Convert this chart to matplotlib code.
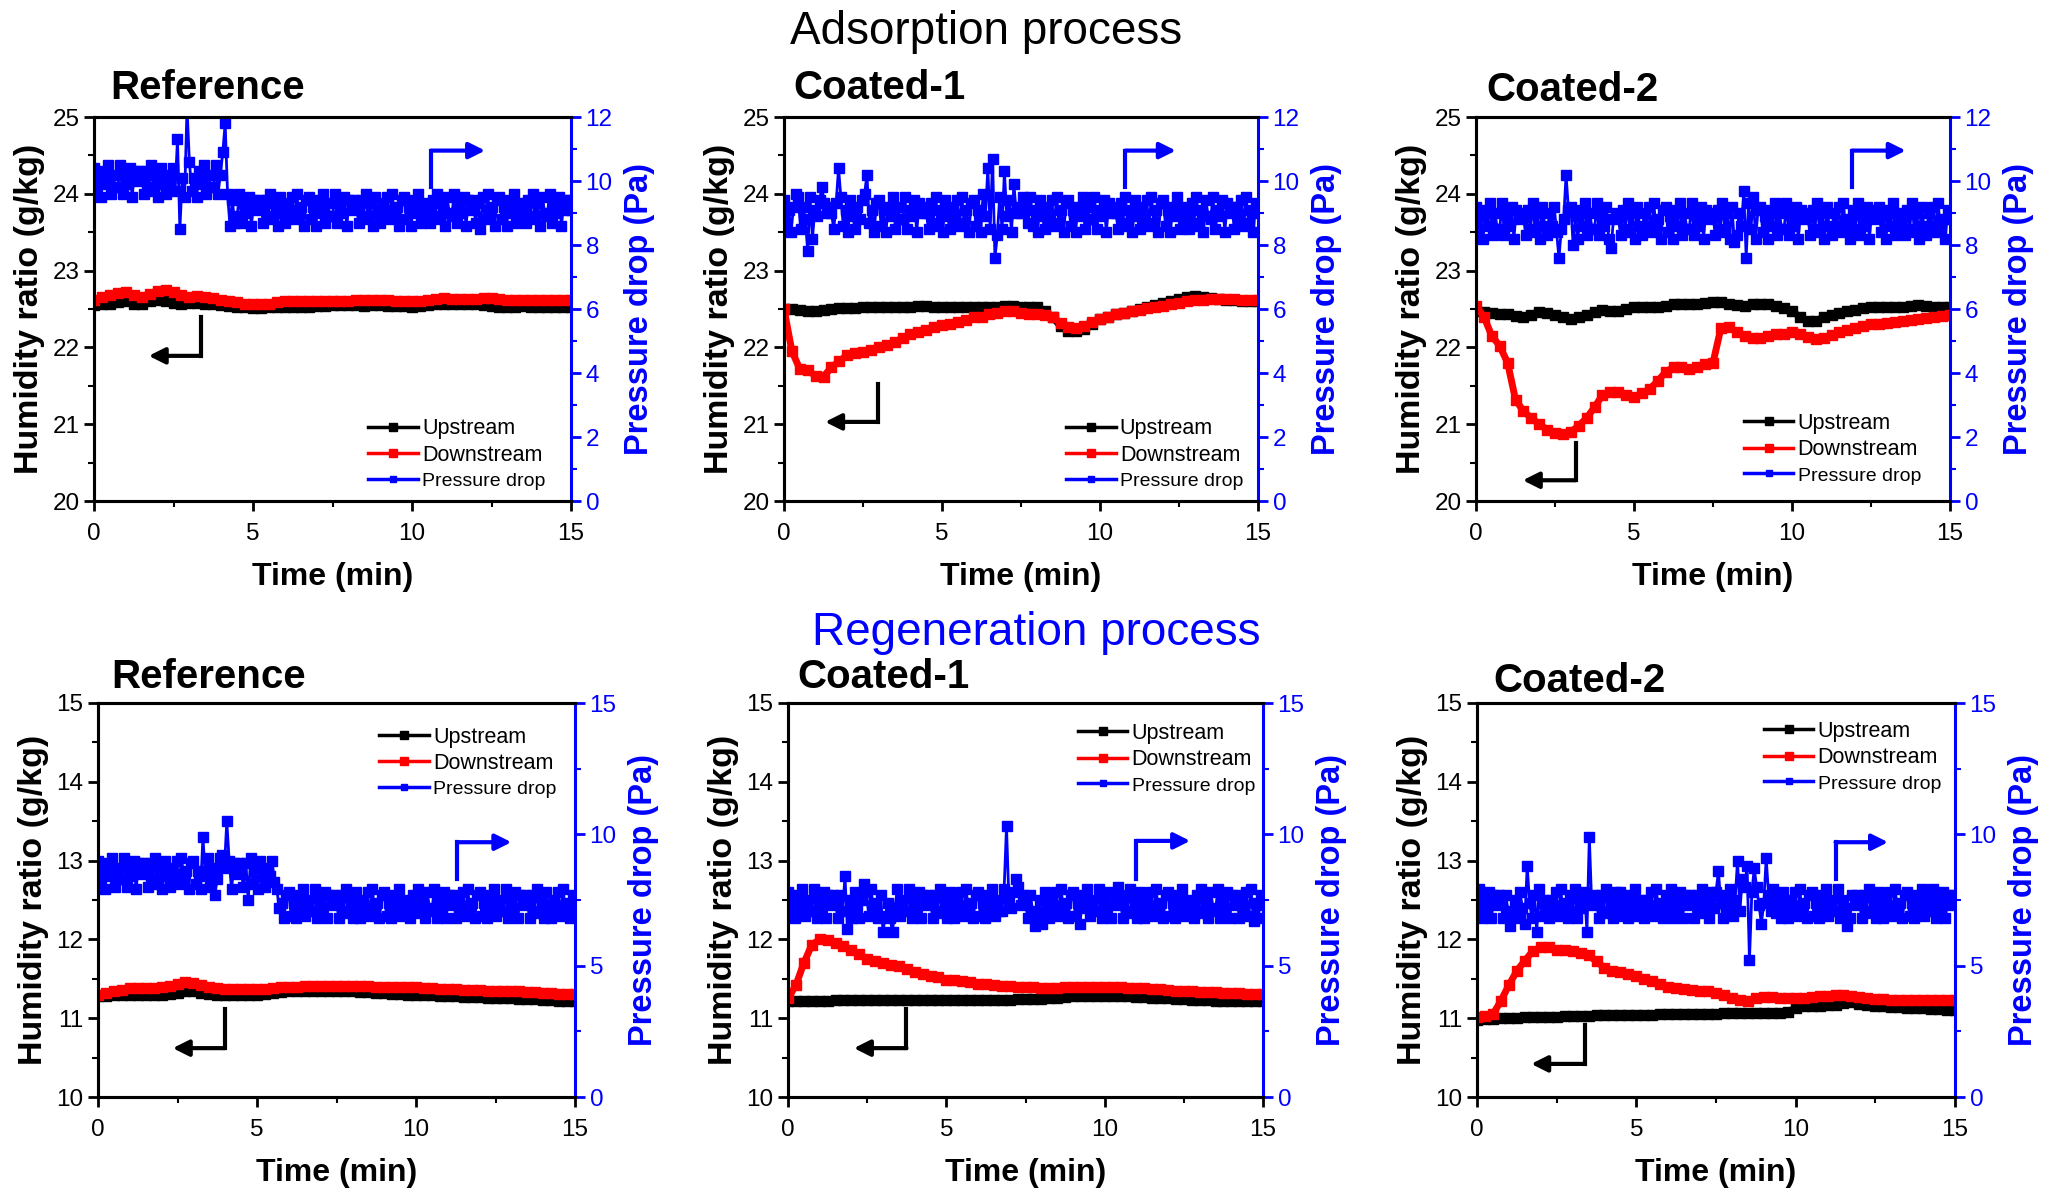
import numpy as np
import matplotlib
matplotlib.use('Agg')
import matplotlib.pyplot as plt
from matplotlib.lines import Line2D

plt.rcParams['font.family'] = ['Liberation Sans', 'DejaVu Sans']

# Sampling times (min)
t_hum = np.linspace(0, 15, 61)
t_dp = np.linspace(0, 15, 201)

# ---- Adsorption process: humidity ratio (g/kg) ----
up_ref_ads = [22.55, 22.56, 22.57, 22.59, 22.60, 22.57, 22.56, 22.60, 22.62, 22.61,
              22.58, 22.57, 22.58, 22.58, 22.57, 22.56, 22.55, 22.54, 22.53, 22.52,
              22.51, 22.51, 22.52, 22.53, 22.53, 22.53, 22.52, 22.53, 22.54, 22.54,
              22.55, 22.55, 22.55, 22.55, 22.54, 22.55, 22.55, 22.54, 22.54, 22.54,
              22.53, 22.54, 22.55, 22.56, 22.56, 22.56, 22.56, 22.56, 22.56, 22.55,
              22.54, 22.53, 22.53, 22.53, 22.54, 22.53, 22.53, 22.53, 22.53, 22.53, 22.53]
dn_ref_ads = [22.62, 22.65, 22.68, 22.71, 22.72, 22.68, 22.66, 22.70, 22.74, 22.75,
              22.72, 22.68, 22.66, 22.67, 22.66, 22.64, 22.62, 22.61, 22.59, 22.57,
              22.56, 22.56, 22.57, 22.59, 22.60, 22.60, 22.60, 22.60, 22.60, 22.61,
              22.61, 22.61, 22.61, 22.62, 22.62, 22.62, 22.62, 22.62, 22.61, 22.61,
              22.60, 22.61, 22.62, 22.63, 22.64, 22.63, 22.63, 22.63, 22.63, 22.64,
              22.64, 22.63, 22.62, 22.62, 22.62, 22.62, 22.62, 22.62, 22.62, 22.62, 22.62]
up_c1_ads = [22.50, 22.50, 22.49, 22.48, 22.48, 22.49, 22.50, 22.51, 22.51, 22.51,
             22.52, 22.52, 22.52, 22.52, 22.53, 22.52, 22.53, 22.54, 22.54, 22.53,
             22.53, 22.53, 22.52, 22.53, 22.53, 22.52, 22.52, 22.53, 22.54, 22.54,
             22.53, 22.53, 22.53, 22.48, 22.39, 22.28, 22.22, 22.21, 22.24, 22.30,
             22.37, 22.40, 22.43, 22.45, 22.47, 22.50, 22.52, 22.55, 22.58, 22.61,
             22.63, 22.66, 22.67, 22.66, 22.64, 22.63, 22.62, 22.62, 22.61, 22.61, 22.60]
dn_c1_ads = [22.50, 21.95, 21.72, 21.70, 21.63, 21.62, 21.74, 21.82, 21.90, 21.93,
             21.94, 21.96, 22.00, 22.03, 22.07, 22.12, 22.17, 22.20, 22.23, 22.26,
             22.29, 22.31, 22.33, 22.36, 22.39, 22.40, 22.43, 22.45, 22.47, 22.47,
             22.45, 22.44, 22.44, 22.42, 22.39, 22.32, 22.27, 22.25, 22.28, 22.33,
             22.37, 22.40, 22.43, 22.45, 22.47, 22.49, 22.51, 22.53, 22.54, 22.56,
             22.58, 22.60, 22.62, 22.62, 22.63, 22.63, 22.63, 22.63, 22.62, 22.62, 22.62]
up_c2_ads = [22.47, 22.46, 22.45, 22.44, 22.43, 22.41, 22.39, 22.42, 22.46, 22.45,
             22.42, 22.39, 22.37, 22.39, 22.42, 22.46, 22.49, 22.48, 22.48, 22.50,
             22.52, 22.52, 22.53, 22.53, 22.54, 22.56, 22.57, 22.57, 22.56, 22.58,
             22.59, 22.59, 22.57, 22.55, 22.54, 22.56, 22.57, 22.56, 22.54, 22.51,
             22.47, 22.40, 22.34, 22.35, 22.39, 22.42, 22.45, 22.47, 22.49, 22.51,
             22.53, 22.53, 22.53, 22.53, 22.53, 22.54, 22.55, 22.54, 22.53, 22.52, 22.52]
dn_c2_ads = [22.54, 22.40, 22.15, 22.02, 21.80, 21.32, 21.17, 21.08, 21.00, 20.93,
             20.88, 20.87, 20.90, 20.98, 21.08, 21.22, 21.38, 21.42, 21.42, 21.38,
             21.35, 21.40, 21.46, 21.56, 21.68, 21.74, 21.74, 21.72, 21.74, 21.78,
             21.80, 22.25, 22.27, 22.20, 22.15, 22.12, 22.12, 22.15, 22.17, 22.18,
             22.20, 22.17, 22.13, 22.11, 22.12, 22.16, 22.20, 22.23, 22.25, 22.28,
             22.30, 22.31, 22.32, 22.33, 22.34, 22.36, 22.37, 22.38, 22.40, 22.41, 22.42]

# ---- Adsorption process: pressure drop (Pa) ----
dp_ref_ads = [10.4, 9.7, 10.1, 9.5, 10.3, 9.9, 10.5, 9.6, 10.2, 9.8,
              9.8, 10.5, 9.6, 10.2, 9.9, 10.4, 9.5, 10.3, 10.0, 10.3,
              10.1, 9.6, 10.3, 9.8, 10.5, 9.7, 10.2, 9.5, 10.4, 9.9,
              9.6, 10.2, 9.9, 10.4, 9.7, 11.3, 8.5, 10.1, 9.5, 12.3,
              10.6, 9.7, 10.1, 9.5, 10.3, 9.9, 10.5, 9.6, 10.2, 9.8,
              9.8, 10.5, 9.6, 10.2, 10.9, 11.8, 9.6, 8.6, 9.4, 8.7,
              8.9, 9.6, 8.7, 9.3, 9.0, 9.5, 8.6, 9.4, 9.1, 9.4,
              9.2, 8.7, 9.4, 8.9, 9.6, 8.8, 9.3, 8.6, 9.5, 9.0,
              8.7, 9.3, 9.0, 9.5, 8.8, 9.6, 8.9, 9.2, 8.6, 9.4,
              9.5, 8.8, 9.2, 8.6, 9.4, 9.0, 9.6, 8.7, 9.3, 8.9,
              8.9, 9.6, 8.7, 9.3, 9.0, 9.5, 8.6, 9.4, 9.1, 9.4,
              9.2, 8.7, 9.4, 8.9, 9.6, 8.8, 9.3, 8.6, 9.5, 9.0,
              8.7, 9.3, 9.0, 9.5, 8.8, 9.6, 8.9, 9.2, 8.6, 9.4,
              9.5, 8.8, 9.2, 8.6, 9.4, 9.0, 9.6, 8.7, 9.3, 8.9,
              9.2, 8.7, 9.4, 8.9, 9.6, 8.8, 9.3, 8.6, 9.5, 9.0,
              8.9, 9.6, 8.7, 9.3, 9.0, 9.5, 8.6, 9.4, 9.1, 9.4,
              8.7, 9.3, 8.5, 9.5, 8.8, 9.6, 8.9, 9.2, 8.6, 9.4,
              9.5, 8.8, 9.2, 8.6, 9.4, 9.0, 9.6, 8.7, 9.3, 8.9,
              9.2, 8.7, 9.4, 8.9, 9.6, 8.8, 9.3, 8.6, 9.5, 9.0,
              8.9, 9.6, 8.7, 9.3, 9.0, 9.5, 8.6, 9.4, 9.1, 9.4,
              9.1]
dp_c1_ads = [9.4, 8.6, 9.1, 8.4, 9.2, 9.6, 9.5, 8.5, 9.2, 8.8,
             7.8, 9.5, 8.2, 9.1, 8.9, 9.4, 9.8, 9.3, 9.0, 9.2,
             9.0, 8.5, 9.3, 10.4, 9.5, 8.6, 9.1, 8.4, 9.4, 8.9,
             8.5, 9.2, 8.8, 9.4, 9.6, 10.2, 8.7, 9.1, 8.4, 9.3,
             9.4, 8.6, 9.1, 8.4, 9.2, 8.9, 9.5, 8.5, 9.2, 8.8,
             8.8, 9.5, 8.5, 9.1, 8.9, 9.4, 8.4, 9.3, 9.0, 9.2,
             9.0, 8.5, 9.3, 8.7, 9.5, 8.6, 9.1, 8.4, 9.4, 8.9,
             8.5, 9.2, 8.8, 9.4, 8.6, 9.5, 8.7, 9.1, 8.4, 9.3,
             9.4, 8.6, 9.1, 8.4, 9.6, 8.9, 10.4, 8.5, 10.7, 7.6,
             8.3, 9.5, 8.5, 10.3, 8.9, 9.4, 8.4, 9.9, 9.0, 9.2,
             9.0, 9.5, 9.3, 8.7, 9.5, 8.6, 9.1, 8.4, 9.4, 8.9,
             8.5, 9.2, 8.8, 9.4, 8.6, 9.5, 8.7, 9.1, 8.4, 9.3,
             9.4, 8.6, 9.1, 8.4, 9.2, 8.9, 9.5, 8.5, 9.2, 8.8,
             8.8, 9.5, 8.5, 9.1, 8.9, 9.4, 8.4, 9.3, 9.0, 9.2,
             9.0, 8.5, 9.3, 8.7, 9.5, 8.6, 9.1, 8.4, 9.4, 8.9,
             8.5, 9.2, 8.8, 9.4, 8.6, 9.5, 8.7, 9.1, 8.4, 9.3,
             9.4, 8.6, 9.1, 8.4, 9.2, 8.9, 9.5, 8.5, 9.2, 8.8,
             9.0, 8.5, 9.3, 8.7, 9.5, 8.6, 9.1, 8.4, 9.4, 8.9,
             8.8, 9.5, 8.5, 9.1, 8.9, 9.4, 8.4, 9.3, 9.0, 9.2,
             8.5, 9.2, 8.8, 9.4, 8.6, 9.5, 8.7, 9.1, 8.4, 9.3,
             9.0]
dp_c2_ads = [9.2, 8.4, 8.9, 8.2, 9.1, 8.6, 9.3, 8.3, 9.0, 8.5,
             8.5, 9.3, 8.3, 9.0, 8.6, 9.2, 8.2, 9.1, 8.8, 9.0,
             8.9, 8.3, 9.1, 8.5, 9.3, 8.4, 9.0, 8.2, 9.2, 8.6,
             8.3, 9.0, 8.6, 9.2, 8.4, 7.6, 8.5, 8.8, 10.2, 9.1,
             9.2, 8.0, 8.9, 8.2, 9.1, 8.6, 9.3, 8.3, 9.0, 8.5,
             8.5, 9.3, 8.3, 9.0, 8.6, 9.2, 8.2, 7.9, 8.8, 9.0,
             8.9, 8.3, 9.1, 8.5, 9.3, 8.4, 9.0, 8.2, 9.2, 8.6,
             8.3, 9.0, 8.6, 9.2, 8.4, 9.3, 8.5, 8.8, 8.2, 9.1,
             9.2, 8.4, 8.9, 8.2, 9.1, 8.6, 9.3, 8.3, 9.0, 8.5,
             8.5, 9.3, 8.3, 9.0, 8.6, 9.2, 8.2, 9.1, 8.8, 9.0,
             8.9, 8.3, 9.1, 8.5, 9.3, 8.4, 9.0, 8.2, 9.2, 8.1,
             8.3, 9.0, 8.6, 9.7, 7.6, 9.3, 8.5, 9.5, 8.2, 9.1,
             9.2, 8.4, 8.9, 8.2, 9.1, 8.6, 9.3, 8.3, 9.0, 8.5,
             8.5, 9.3, 8.3, 9.0, 8.6, 9.2, 8.2, 9.1, 8.8, 9.0,
             8.9, 8.3, 9.1, 8.5, 9.3, 8.4, 9.0, 8.2, 9.2, 8.6,
             8.3, 9.0, 8.6, 9.2, 8.4, 9.3, 8.5, 8.8, 8.2, 9.1,
             8.5, 9.3, 8.3, 9.0, 8.6, 9.2, 8.2, 9.1, 8.8, 9.0,
             9.2, 8.4, 8.9, 8.2, 9.1, 8.6, 9.3, 8.3, 9.0, 8.5,
             8.9, 8.3, 9.1, 8.5, 9.3, 8.4, 9.0, 8.2, 9.2, 8.6,
             8.3, 9.0, 8.6, 9.2, 8.4, 9.3, 8.5, 8.8, 8.2, 9.1,
             8.8]

# ---- Regeneration process: humidity ratio (g/kg) ----
up_ref_reg = [11.28, 11.28, 11.29, 11.30, 11.30, 11.30, 11.30, 11.30, 11.30, 11.31,
              11.32, 11.34, 11.34, 11.32, 11.31, 11.30, 11.30, 11.30, 11.30, 11.30,
              11.30, 11.31, 11.32, 11.33, 11.34, 11.35, 11.35, 11.35, 11.35, 11.35,
              11.34, 11.34, 11.34, 11.33, 11.33, 11.32, 11.32, 11.31, 11.31, 11.30,
              11.30, 11.29, 11.29, 11.28, 11.28, 11.28, 11.27, 11.27, 11.27, 11.26,
              11.26, 11.25, 11.25, 11.24, 11.24, 11.24, 11.23, 11.23, 11.22, 11.22, 11.22]
dn_ref_reg = [11.30, 11.32, 11.34, 11.36, 11.38, 11.38, 11.38, 11.38, 11.39, 11.41,
              11.43, 11.46, 11.45, 11.42, 11.39, 11.38, 11.37, 11.37, 11.37, 11.37,
              11.37, 11.37, 11.38, 11.39, 11.40, 11.40, 11.41, 11.41, 11.41, 11.41,
              11.41, 11.41, 11.41, 11.41, 11.41, 11.40, 11.40, 11.40, 11.39, 11.39,
              11.39, 11.38, 11.38, 11.37, 11.37, 11.37, 11.36, 11.36, 11.36, 11.35,
              11.35, 11.35, 11.34, 11.34, 11.33, 11.33, 11.32, 11.32, 11.31, 11.31, 11.31]
up_c1_reg = [11.22, 11.22, 11.22, 11.22, 11.22, 11.22, 11.23, 11.23, 11.23, 11.23,
             11.23, 11.23, 11.23, 11.23, 11.23, 11.23, 11.23, 11.23, 11.23, 11.23,
             11.23, 11.23, 11.23, 11.23, 11.23, 11.23, 11.23, 11.23, 11.23, 11.24,
             11.24, 11.24, 11.24, 11.25, 11.26, 11.27, 11.28, 11.28, 11.28, 11.28,
             11.28, 11.28, 11.28, 11.28, 11.27, 11.27, 11.26, 11.25, 11.25, 11.24,
             11.24, 11.23, 11.23, 11.23, 11.22, 11.22, 11.22, 11.22, 11.22, 11.22, 11.22]
dn_c1_reg = [11.25, 11.42, 11.70, 11.93, 12.00, 11.99, 11.95, 11.91, 11.87, 11.81,
             11.75, 11.72, 11.70, 11.68, 11.66, 11.62, 11.59, 11.56, 11.54, 11.52,
             11.49, 11.48, 11.47, 11.46, 11.44, 11.43, 11.42, 11.41, 11.41, 11.40,
             11.39, 11.39, 11.38, 11.38, 11.38, 11.39, 11.39, 11.39, 11.39, 11.39,
             11.39, 11.39, 11.39, 11.38, 11.38, 11.38, 11.37, 11.37, 11.36, 11.35,
             11.35, 11.34, 11.33, 11.33, 11.33, 11.32, 11.32, 11.32, 11.31, 11.31, 11.31]
up_c2_reg = [10.98, 10.99, 10.99, 11.00, 11.00, 11.00, 11.01, 11.01, 11.02, 11.02,
             11.02, 11.03, 11.03, 11.03, 11.03, 11.04, 11.04, 11.04, 11.04, 11.04,
             11.04, 11.04, 11.04, 11.05, 11.05, 11.05, 11.05, 11.05, 11.05, 11.05,
             11.05, 11.06, 11.06, 11.06, 11.06, 11.06, 11.06, 11.06, 11.06, 11.08,
             11.13, 11.15, 11.16, 11.16, 11.17, 11.17, 11.19, 11.20, 11.18, 11.17,
             11.16, 11.15, 11.14, 11.14, 11.13, 11.13, 11.13, 11.12, 11.12, 11.11, 11.11]
dn_c2_reg = [11.02, 11.03, 11.05, 11.22, 11.42, 11.60, 11.73, 11.85, 11.90, 11.90,
             11.87, 11.86, 11.85, 11.83, 11.80, 11.72, 11.64, 11.60, 11.58, 11.56,
             11.53, 11.50, 11.47, 11.43, 11.39, 11.38, 11.37, 11.36, 11.35, 11.34,
             11.32, 11.29, 11.25, 11.23, 11.22, 11.26, 11.27, 11.27, 11.26, 11.25,
             11.25, 11.26, 11.27, 11.28, 11.28, 11.29, 11.29, 11.28, 11.27, 11.25,
             11.24, 11.24, 11.23, 11.23, 11.23, 11.23, 11.23, 11.23, 11.23, 11.23, 11.23]

# ---- Regeneration process: pressure drop (Pa) ----
dp_ref_reg = [9.0, 8.1, 8.6, 7.9, 8.9, 8.4, 9.1, 8.0, 8.7, 8.3,
              8.3, 9.1, 8.0, 8.7, 8.4, 9.0, 7.9, 8.9, 8.5, 8.9,
              8.6, 8.0, 8.9, 8.3, 9.1, 8.1, 8.7, 7.9, 9.0, 8.4,
              8.0, 8.7, 8.4, 9.0, 8.1, 9.1, 8.3, 8.6, 7.9, 8.9,
              9.0, 8.1, 8.6, 7.9, 9.9, 8.4, 9.1, 8.0, 8.7, 7.7,
              8.3, 9.1, 9.2, 8.7, 10.5, 9.0, 7.9, 8.9, 8.5, 8.9,
              8.6, 8.0, 8.9, 7.5, 9.1, 8.1, 8.7, 7.9, 9.0, 8.4,
              8.0, 8.7, 8.4, 9.0, 8.2, 7.9, 7.2, 7.4, 6.8, 7.7,
              7.8, 6.9, 7.4, 6.8, 7.7, 7.2, 7.9, 6.9, 7.5, 7.1,
              7.1, 7.9, 6.8, 7.5, 7.2, 7.8, 6.8, 7.7, 7.3, 7.7,
              7.4, 6.8, 7.7, 7.1, 7.9, 7.0, 7.5, 6.8, 7.8, 7.2,
              6.8, 7.5, 7.2, 7.8, 6.9, 7.9, 7.1, 7.4, 6.8, 7.7,
              7.8, 6.9, 7.4, 6.8, 7.7, 7.2, 7.9, 6.9, 7.5, 7.1,
              7.4, 6.8, 7.7, 7.1, 7.9, 7.0, 7.5, 6.8, 7.8, 7.2,
              7.1, 7.9, 6.8, 7.5, 7.2, 7.8, 6.8, 7.7, 7.3, 7.7,
              6.8, 7.5, 7.2, 7.8, 6.9, 7.9, 7.1, 7.4, 6.8, 7.7,
              7.8, 6.9, 7.4, 6.8, 7.7, 7.2, 7.9, 6.9, 7.5, 7.1,
              7.1, 7.9, 6.8, 7.5, 7.2, 7.8, 6.8, 7.7, 7.3, 7.7,
              7.4, 6.8, 7.7, 7.1, 7.9, 7.0, 7.5, 6.8, 7.8, 7.2,
              6.8, 7.5, 7.2, 7.8, 6.9, 7.9, 7.1, 7.4, 6.8, 7.7,
              7.2]
dp_c1_reg = [7.8, 6.9, 7.4, 6.8, 7.7, 7.2, 7.9, 6.9, 7.5, 7.1,
             7.1, 7.9, 6.8, 7.5, 7.2, 7.8, 6.8, 7.7, 7.3, 7.7,
             7.4, 6.8, 7.7, 7.1, 8.4, 6.4, 7.5, 6.8, 7.8, 7.2,
             6.8, 7.5, 8.1, 7.8, 6.9, 7.9, 7.1, 7.4, 6.8, 7.7,
             6.3, 6.9, 7.4, 6.8, 6.3, 7.2, 7.9, 6.9, 7.5, 7.1,
             7.1, 7.9, 6.8, 7.5, 7.2, 7.8, 6.8, 7.7, 7.3, 7.7,
             7.4, 6.8, 7.7, 7.1, 7.9, 7.0, 7.5, 6.8, 7.8, 7.2,
             6.8, 7.5, 7.2, 7.8, 6.9, 7.9, 7.1, 7.4, 6.8, 7.7,
             7.8, 6.9, 7.4, 6.8, 7.7, 7.2, 7.9, 6.9, 7.5, 7.1,
             7.1, 7.9, 10.3, 7.5, 7.2, 7.8, 8.3, 8.0, 7.3, 7.7,
             7.4, 6.8, 7.7, 7.1, 6.5, 7.0, 7.5, 6.6, 7.8, 7.2,
             6.8, 7.5, 7.2, 7.8, 6.9, 7.9, 7.1, 7.4, 6.8, 7.7,
             7.8, 6.9, 7.4, 6.6, 7.7, 7.2, 7.9, 6.9, 7.5, 7.1,
             7.1, 7.9, 6.8, 7.5, 7.2, 7.8, 6.8, 7.7, 7.3, 8.0,
             7.4, 6.8, 7.7, 7.1, 7.9, 7.0, 7.5, 6.8, 7.8, 7.2,
             6.8, 7.5, 7.2, 7.8, 6.9, 7.9, 7.1, 7.4, 6.8, 7.7,
             7.8, 6.9, 7.4, 6.8, 7.7, 7.2, 7.9, 6.9, 7.5, 7.1,
             7.4, 6.8, 7.7, 7.1, 7.9, 7.0, 7.5, 6.8, 7.8, 7.2,
             7.1, 7.9, 6.8, 7.5, 7.2, 7.8, 6.8, 7.7, 7.3, 7.7,
             6.8, 7.5, 7.2, 7.8, 6.9, 7.9, 6.7, 7.4, 6.8, 7.7,
             7.3]
dp_c2_reg = [7.1, 7.9, 6.8, 7.5, 7.2, 7.8, 6.8, 7.7, 7.3, 7.7,
             7.4, 6.8, 7.7, 7.1, 6.5, 7.0, 7.5, 6.8, 7.8, 7.2,
             6.6, 8.8, 7.4, 6.8, 7.7, 6.3, 7.9, 6.9, 7.5, 7.1,
             6.8, 7.5, 7.2, 7.8, 6.9, 7.9, 7.1, 7.4, 6.8, 7.7,
             7.1, 7.9, 6.8, 7.5, 7.2, 7.8, 6.3, 9.9, 7.3, 7.7,
             7.4, 6.8, 7.7, 7.1, 7.9, 7.0, 7.5, 6.8, 7.8, 7.2,
             7.8, 6.9, 7.4, 6.8, 7.7, 7.2, 7.9, 6.9, 7.5, 7.1,
             6.8, 7.5, 7.2, 7.8, 6.9, 7.9, 7.1, 7.4, 6.8, 7.7,
             7.1, 7.9, 6.8, 7.5, 7.2, 7.8, 6.8, 7.7, 7.3, 7.7,
             7.4, 6.8, 7.7, 7.1, 7.9, 7.0, 7.5, 6.8, 7.8, 7.2,
             7.8, 8.6, 7.4, 6.8, 7.7, 7.2, 7.9, 6.9, 7.5, 9.0,
             7.1, 8.3, 8.0, 8.8, 5.2, 7.8, 8.7, 8.0, 7.3, 6.6,
             7.4, 9.1, 7.7, 7.1, 7.9, 7.0, 7.5, 6.8, 7.8, 7.2,
             6.8, 7.5, 7.2, 7.8, 6.9, 7.9, 7.1, 7.4, 6.8, 7.7,
             7.8, 6.9, 7.4, 6.8, 7.7, 7.2, 7.9, 6.9, 7.5, 7.1,
             7.1, 7.9, 6.8, 7.5, 7.2, 6.5, 6.8, 7.7, 7.3, 7.7,
             7.4, 6.8, 7.7, 7.1, 7.9, 7.0, 7.5, 6.8, 7.8, 7.2,
             6.8, 7.5, 7.2, 7.8, 6.9, 7.9, 7.1, 7.4, 6.8, 7.7,
             7.8, 6.9, 7.4, 6.8, 7.7, 7.2, 7.9, 6.9, 7.5, 7.1,
             7.1, 7.9, 6.8, 7.5, 7.2, 7.8, 6.8, 7.7, 7.3, 7.7,
             7.4]

titles = ['Reference', 'Coated-1', 'Coated-2', 'Reference', 'Coated-1', 'Coated-2']
upstream = [up_ref_ads, up_c1_ads, up_c2_ads, up_ref_reg, up_c1_reg, up_c2_reg]
downstream = [dn_ref_ads, dn_c1_ads, dn_c2_ads, dn_ref_reg, dn_c1_reg, dn_c2_reg]
pressure = [dp_ref_ads, dp_c1_ads, dp_c2_ads, dp_ref_reg, dp_c1_reg, dp_c2_reg]

# axes boxes in pixels: left, top, right, bottom
boxes = [(94, 117, 571, 501), (784, 117, 1258, 501), (1476, 117, 1950, 501),
         (98, 703, 575, 1097), (788, 703, 1263, 1097), (1477, 703, 1955, 1097)]
title_xy = [(110, 88), (793, 88), (1486, 90), (111, 677), (797, 677), (1493, 681)]
legend_xy = [(0.575, 0.215), (0.595, 0.215), (0.565, 0.23),
             (0.59, 0.94), (0.61, 0.95), (0.60, 0.955)]
# L-shaped pointers: (x corner, y start, y corner, x end)
left_arrow = [(3.36, 22.39, 21.89, 1.72), (2.97, 21.52, 21.03, 1.30), (3.16, 20.75, 20.27, 1.48),
              (3.99, 11.12, 10.62, 2.35), (3.74, 11.12, 10.62, 2.08), (3.38, 10.92, 10.42, 1.70)]
right_arrow = [(10.6, 9.8, 10.95, 12.3), (10.8, 9.8, 10.95, 12.4), (11.9, 9.8, 10.95, 13.6),
               (11.3, 8.3, 9.7, 13.0), (11.0, 8.3, 9.75, 12.7), (11.25, 8.3, 9.7, 12.9)]

W, H = 2048, 1191
fig = plt.figure(figsize=(W / 100, H / 100), dpi=100)

BLUE = '#0000ff'
RED = '#ff0000'

for i in range(6):
    l, t, r, b = boxes[i]
    ax = fig.add_axes([l / W, 1 - b / H, (r - l) / W, (b - t) / H])
    ax2 = ax.twinx()
    top_row = i < 3

    ax.plot(t_hum, upstream[i], color='k', lw=5, marker='s', ms=7, zorder=3)
    ax.plot(t_hum, downstream[i], color=RED, lw=5, marker='s', ms=7, zorder=4)
    ax2.plot(t_dp, pressure[i], color=BLUE, lw=2, marker='s', ms=6.5)

    ax.set_xlim(0, 15)
    ax.set_xticks([0, 5, 10, 15])
    ax.set_xticks([2.5, 7.5, 12.5], minor=True)
    if top_row:
        ax.set_ylim(20, 25)
        ax.set_yticks([20, 21, 22, 23, 24, 25])
        ax.set_yticks(np.arange(20.5, 25, 1.0), minor=True)
        ax2.set_ylim(0, 12)
        ax2.set_yticks([0, 2, 4, 6, 8, 10, 12])
        ax2.set_yticks([1, 3, 5, 7, 9, 11], minor=True)
    else:
        ax.set_ylim(10, 15)
        ax.set_yticks([10, 11, 12, 13, 14, 15])
        ax.set_yticks(np.arange(10.5, 15, 1.0), minor=True)
        ax2.set_ylim(0, 15)
        ax2.set_yticks([0, 5, 10, 15])
        ax2.set_yticks([2.5, 7.5, 12.5], minor=True)

    for a in (ax, ax2):
        for s in a.spines.values():
            s.set_linewidth(2.2)
    ax.spines['right'].set_visible(False)
    ax2.spines['right'].set_color(BLUE)

    ax.tick_params(which='major', direction='out', length=7, width=2, labelsize=17.5)
    ax.tick_params(which='minor', direction='out', length=4, width=1.5)
    ax.tick_params(axis='x', which='major', pad=9)
    ax2.tick_params(which='major', direction='out', length=7, width=2, labelsize=17.5,
                    colors=BLUE)
    ax2.tick_params(which='minor', direction='out', length=4, width=1.5, colors=BLUE)

    ax.set_xlabel('Time (min)', fontsize=23, fontweight='bold', labelpad=12)
    ax.set_ylabel('Humidity ratio (g/kg)', fontsize=24.5, fontweight='bold', labelpad=5)
    ax2.set_ylabel('Pressure drop (Pa)', fontsize=23.5, fontweight='bold', color=BLUE,
                   labelpad=8)

    # direction pointers
    xc, y0, yc, xe = left_arrow[i]
    ax.plot([xc, xc], [y0, yc], color='k', lw=3, solid_capstyle='projecting')
    ax.annotate('', xy=(xe, yc), xytext=(xc, yc),
                arrowprops=dict(arrowstyle='-|>', color='k', lw=3, mutation_scale=24,
                                shrinkA=0, shrinkB=0))
    xc, y0, yc, xe = right_arrow[i]
    ax2.plot([xc, xc], [y0, yc], color=BLUE, lw=3, solid_capstyle='projecting')
    ax2.annotate('', xy=(xe, yc), xytext=(xc, yc),
                 arrowprops=dict(arrowstyle='-|>', color=BLUE, lw=3, mutation_scale=24,
                                 shrinkA=0, shrinkB=0))

    handles = [Line2D([], [], color='k', lw=2.5, marker='s', ms=6),
               Line2D([], [], color=RED, lw=2.5, marker='s', ms=6),
               Line2D([], [], color=BLUE, lw=2.5, marker='s', ms=5)]
    leg = ax2.legend(handles, ['Upstream', 'Downstream', 'Pressure drop'],
                     loc='upper left', bbox_to_anchor=legend_xy[i], frameon=False,
                     fontsize=15.5, handlelength=2.3, handletextpad=0.2,
                     labelspacing=0.25, borderpad=0, borderaxespad=0)
    leg.get_texts()[2].set_fontsize(14)

    tx, ty = title_xy[i]
    fig.text(tx / W, 1 - ty / H, titles[i], fontsize=29, fontweight='bold',
             ha='left', va='center')

fig.text(986 / W, 1 - 32 / H, 'Adsorption process', fontsize=33, color='k',
         ha='center', va='center', family=['Liberation Sans Narrow', 'Liberation Sans'])
fig.text(1036 / W, 1 - 633 / H, 'Regeneration process', fontsize=33, color=BLUE,
         ha='center', va='center', family=['Liberation Sans Narrow', 'Liberation Sans'])

fig.savefig('out.png', dpi=100)
